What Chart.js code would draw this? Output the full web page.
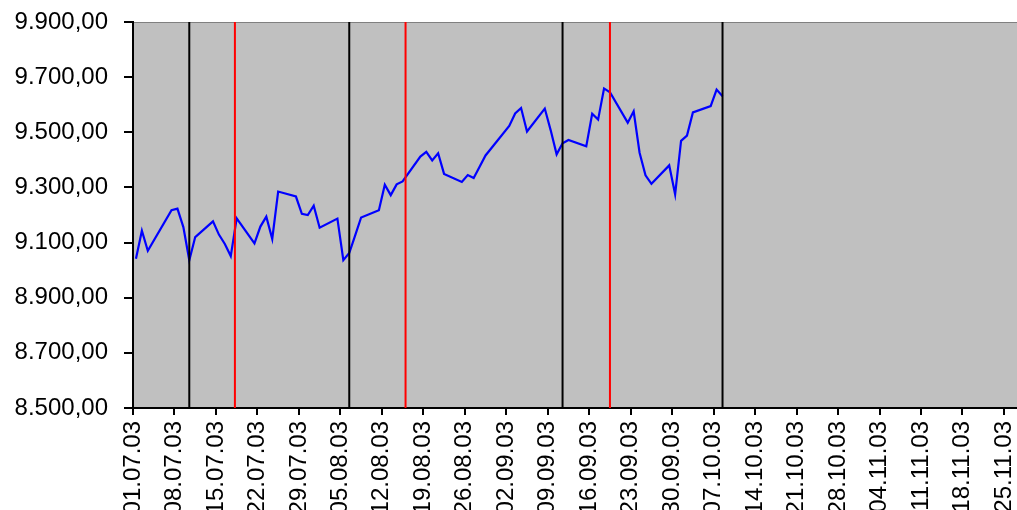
<!DOCTYPE html>
<html>
<head>
<meta charset="utf-8">
<script src="https://cdn.jsdelivr.net/npm/chart.js@4.4.0/dist/chart.umd.min.js"></script>
<style>
  html, body { margin: 0; padding: 0; background: #fff; }
  #c { display: block; }
</style>
</head>
<body>
<canvas id="c" width="1017" height="510"></canvas>
<script>
// trading days and closing values
const dates = ["01.07.03","02.07.03","03.07.03","07.07.03","08.07.03","09.07.03","10.07.03","11.07.03","14.07.03","15.07.03","16.07.03","17.07.03","18.07.03","21.07.03","22.07.03","23.07.03","24.07.03","25.07.03","28.07.03","29.07.03","30.07.03","31.07.03",
  "01.08.03","04.08.03","05.08.03","06.08.03","07.08.03","08.08.03","11.08.03","12.08.03","13.08.03","14.08.03","15.08.03","18.08.03","19.08.03","20.08.03","21.08.03","22.08.03","25.08.03","26.08.03","27.08.03","28.08.03","29.08.03",
  "02.09.03","03.09.03","04.09.03","05.09.03","08.09.03","09.09.03","10.09.03","11.09.03","12.09.03","15.09.03","16.09.03","17.09.03","18.09.03","19.09.03","22.09.03","23.09.03","24.09.03","25.09.03","26.09.03","29.09.03","30.09.03",
  "01.10.03","02.10.03","03.10.03","06.10.03","07.10.03","08.10.03"];
const values = [9041,9143,9070,9217,9223,9156,9036,9120,9177,9129,9095,9051,9188,9097,9158,9194,9113,9285,9267,9204,9200,9234,
  9154,9187,9036,9062,9126,9191,9217,9310,9272,9311,9322,9412,9429,9398,9424,9349,9320,9345,9334,9375,9416,
  9523,9568,9588,9503,9586,9507,9420,9460,9472,9449,9567,9546,9659,9645,9535,9576,9426,9344,9313,9380,9275,
  9469,9488,9572,9595,9655,9631];

const xLabels = ["01.07.03","08.07.03","15.07.03","22.07.03","29.07.03","05.08.03","12.08.03","19.08.03","26.08.03","02.09.03","09.09.03","16.09.03","23.09.03","30.09.03","07.10.03","14.10.03","21.10.03","28.10.03","04.11.03","11.11.03","18.11.03","25.11.03"];

// vertical marker lines, in days after 01.07.03
const blackLines = [9.5, 36.5, 72.5, 99.5];
const redLines = [17.2, 46.0, 80.5];

const yMin = 8500, yMax = 9900, yStep = 200;

const start = Date.UTC(2003, 6, 1);
function dayOf(s) {
  const [d, m, y] = s.split('.').map(Number);
  return (Date.UTC(2000 + y, m - 1, d) - start) / 86400000;
}
function deNum(v) {
  return Math.round(v).toString().replace(/\B(?=(\d{3})+(?!\d))/g, '.') + ',00';
}

const series = dates.map((d, i) => ({ x: dayOf(d) + 0.5, y: values[i] }));

function vLine(x, color) {
  return {
    data: [{ x: x, y: yMin }, { x: x, y: yMax }],
    borderColor: color,
    borderWidth: 2,
    pointRadius: 0,
    order: 1
  };
}

const plotBg = {
  id: 'plotBg',
  beforeDraw(chart) {
    const { ctx, chartArea: a } = chart;
    ctx.save();
    ctx.fillStyle = '#C0C0C0';
    ctx.fillRect(a.left, a.top, a.right - a.left, a.bottom - a.top);
    ctx.strokeStyle = '#808080';
    ctx.lineWidth = 1;
    ctx.beginPath();
    ctx.moveTo(a.left, a.top + 0.5);
    ctx.lineTo(a.right, a.top + 0.5);
    ctx.stroke();
    ctx.restore();
  }
};

const font = { family: '"Liberation Sans", Arial, sans-serif', size: 24 };

new Chart(document.getElementById('c').getContext('2d'), {
  type: 'line',
  data: {
    datasets: [
      {
        data: series,
        borderColor: '#0000FF',
        borderWidth: 2.2,
        pointRadius: 0,
        tension: 0,
        order: 2
      },
      ...blackLines.map(x => vLine(x, '#000000')),
      ...redLines.map(x => vLine(x, '#FF0000'))
    ]
  },
  options: {
    responsive: false,
    animation: false,
    devicePixelRatio: 1,
    layout: { padding: { top: 22, right: 0, left: 0, bottom: 0 } },
    plugins: { legend: { display: false }, tooltip: { enabled: false } },
    scales: {
      x: {
        type: 'linear',
        min: 0,
        max: 149.2,
        afterBuildTicks: s => { s.ticks = xLabels.map((l, i) => ({ value: i * 7 })); },
        afterFit: s => {
          s.height = 102;
          s.paddingLeft = 0; s.paddingRight = 0; s.paddingTop = 0; s.paddingBottom = 0;
        },
        grid: { drawOnChartArea: false, drawTicks: true, tickLength: 7, color: '#000', lineWidth: 2 },
        border: { color: '#000', width: 2 },
        ticks: {
          autoSkip: false,
          maxRotation: 90,
          minRotation: 90,
          padding: 6,
          color: '#000',
          font: font,
          callback: v => xLabels[Math.round(v / 7)]
        }
      },
      y: {
        min: yMin,
        max: yMax,
        afterFit: s => {
          s.width = 133;
          s.paddingLeft = 0; s.paddingRight = 0; s.paddingTop = 0; s.paddingBottom = 0;
        },
        grid: { drawOnChartArea: false, drawTicks: true, tickLength: 9, color: '#000', lineWidth: 2 },
        border: { color: '#000', width: 2 },
        ticks: {
          stepSize: yStep,
          padding: 16,
          color: '#000',
          font: font,
          callback: v => deNum(v)
        }
      }
    }
  },
  plugins: [plotBg]
});
</script>
</body>
</html>
